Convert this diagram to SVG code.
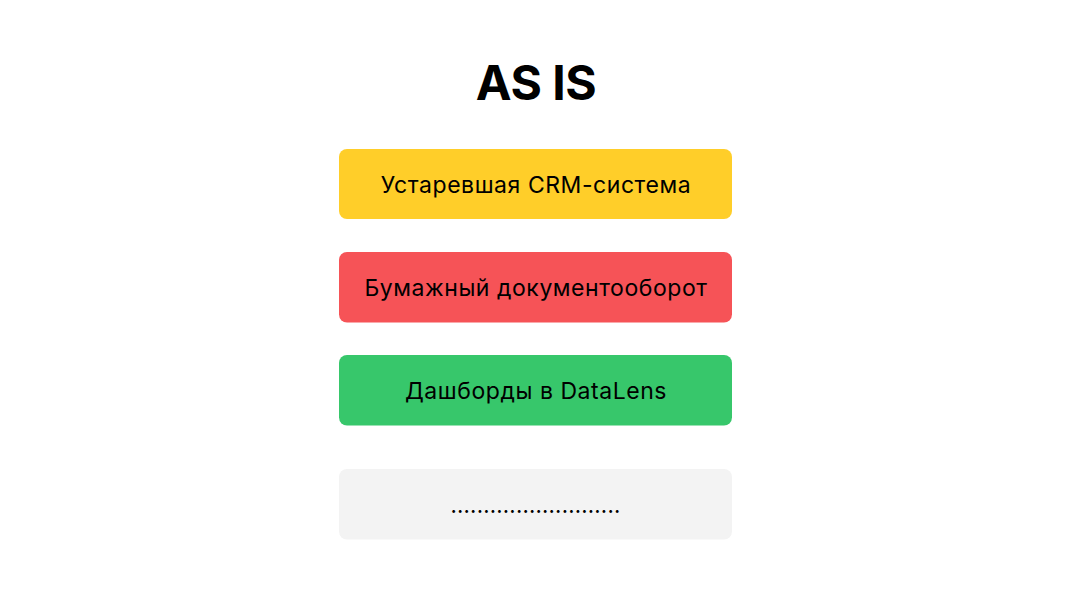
<svg xmlns="http://www.w3.org/2000/svg" width="1070" height="600" viewBox="0 0 1070 600">
<style>
.t{font-family:Inter,"Noto Sans","DejaVu Sans",sans-serif;font-size:23px;letter-spacing:0.55px;fill:#000;text-anchor:middle}
.d{font-size:22px;letter-spacing:0.2px}
.h{font-family:Inter,"Noto Sans","DejaVu Sans",sans-serif;font-size:48px;font-weight:700;letter-spacing:-0.5px;fill:#000;text-anchor:middle}
</style>
<rect width="1070" height="600" fill="#fff"/>
<g id="title"><text class="h" x="536" y="100">AS IS</text></g>
<g id="crm"><rect x="339" y="149" width="393" height="70" rx="8" fill="#FFCE29"/><text class="t" x="536" y="193">Устаревшая CRM-система</text></g>
<g id="paper"><rect x="339" y="252" width="393" height="70.5" rx="8" fill="#F65357"/><text class="t" x="536" y="296">Бумажный документооборот</text></g>
<g id="datalens"><rect x="339" y="355" width="393" height="70.5" rx="8" fill="#37C76B"/><text class="t" x="536" y="399">Дашборды в DataLens</text></g>
<g id="more"><rect x="339" y="469" width="393" height="70.5" rx="8" fill="#F3F3F3"/><text class="t d" x="535.5" y="513">..........................</text></g>
<g id="connectors"/>
</svg>
